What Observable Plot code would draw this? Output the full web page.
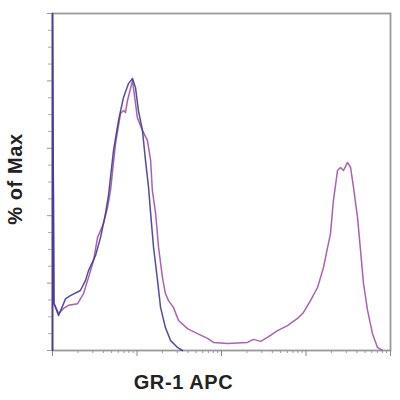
<!DOCTYPE html>
<html>
<head>
<meta charset="utf-8">
<script src="https://cdn.jsdelivr.net/npm/d3@7"></script>
<script src="https://cdn.jsdelivr.net/npm/@observablehq/plot@0.6"></script>
<style>
  html, body { margin: 0; padding: 0; background: #fff; }
  svg text { letter-spacing: 0.6px; }
</style>
</head>
<body>
<div id="chart"></div>
<script>
// Isotype control (blue)
const isoX = [1, 1, 1.04, 1.18, 1.43, 1.63, 2.14, 2.46, 2.67, 3.23, 3.70, 4.24, 4.60, 5.27, 6.04, 6.92, 7.93, 8.85, 9.6, 10.4, 11.6, 12.6, 13.7, 14.5, 15.7, 17.5, 19.0, 21.7, 24.9, 30.1, 34.5];
const isoY = [0, 100, 14, 10.4, 15.4, 16.3, 17.8, 20.8, 23.7, 28.2, 33.5, 40.7, 46, 59.3, 68.2, 75.1, 79.2, 80.7, 78.0, 71.2, 65.3, 56.4, 48.4, 40.7, 30.6, 20.8, 12.8, 6.8, 3.0, 0.9, 0];
// GR-1 APC stained (purple)
const gr1X = [1, 1, 1.04, 1.18, 1.35, 1.55, 1.98, 2.33, 2.67, 3.06, 3.41, 4.01, 4.48, 4.86, 5.57, 6.38, 6.92, 7.31, 7.72, 8.85, 10.1, 11.6, 13.3, 14.5, 15.2, 16.6, 18.0, 20.0, 21.7, 23.6, 27.0, 31.0, 39.6, 52.0, 68.3, 80.4, 118, 203, 239, 290, 350, 460, 604, 793, 934, 1130, 1370, 1610, 1800, 1950, 2110, 2360, 2560, 2780, 3100, 3370, 3650, 4070, 4420, 4790, 5350, 6120, 7020, 8040];
const gr1Y = [0, 100, 14, 11.0, 12.5, 13.4, 13.9, 16.9, 21.7, 26.7, 33.5, 37.7, 42.4, 47.5, 61.4, 70.3, 71.2, 70.6, 74.2, 80.1, 69.1, 65.3, 62.3, 56.4, 47.5, 40.7, 30.6, 21.7, 16.9, 14.8, 12.8, 8.9, 6.5, 5.0, 3.6, 2.4, 2.1, 2.4, 3.3, 2.7, 3.9, 5.9, 7.4, 9.5, 11.3, 14.8, 18.7, 24.6, 30.6, 34.7, 44.5, 53.4, 54.3, 53.4, 55.8, 54.3, 48.4, 39.5, 29.7, 19.9, 11.9, 5.0, 0.9, 0];

const xMajorTicks = [1, 10, 100, 1000, 10000];
const xMinorTicks = [];
for (const d of [1, 10, 100, 1000]) for (const m of [2, 3, 4, 5, 6, 7, 8, 9]) xMinorTicks.push(d * m);
const yMajorTicks = [0, 20, 40, 60, 80, 100];
const yMinorTicks = [5, 10, 15, 25, 30, 35, 45, 50, 55, 65, 70, 75, 85, 90, 95];

const xLabel = "GR-1 APC";
const yLabel = "% of Max";

const iso = isoX.map((x, i) => ({x, y: isoY[i]}));
const gr1 = gr1X.map((x, i) => ({x, y: gr1Y[i]}));

const chart = Plot.plot({
  width: 400,
  height: 400,
  marginLeft: 52,
  marginTop: 13,
  marginRight: 10,
  marginBottom: 50,
  style: {fontFamily: "Liberation Sans, Arial, sans-serif", fontSize: "20px", fontWeight: "bold", background: "#fff"},
  x: {type: "log", domain: [1, 10000], label: null},
  y: {domain: [0, 100], label: null},
  marks: [
    Plot.frame({stroke: "#999", strokeWidth: 1.8}),
    Plot.axisX(xMajorTicks, {tickSize: 6, tickFormat: () => "", stroke: "#888", label: null}),
    Plot.axisX(xMinorTicks, {tickSize: 3, tickFormat: () => "", stroke: "#999", label: null}),
    Plot.axisY(yMajorTicks, {tickSize: 5, tickFormat: () => "", stroke: "#999", label: null}),
    Plot.axisY(yMinorTicks, {tickSize: 4, tickFormat: () => "", stroke: "#aaa", label: null}),
    Plot.line(gr1, {x: "x", y: "y", stroke: "#a862b0", strokeWidth: 1.5}),
    Plot.line(iso, {x: "x", y: "y", stroke: "#3e3a98", strokeWidth: 1.5, strokeOpacity: 0.9}),
    Plot.text([xLabel], {text: d => d, frameAnchor: "bottom", dx: -38, dy: 38, fill: "#222", fontSize: 20, fontWeight: "bold"}),
    Plot.text([yLabel], {text: d => d, frameAnchor: "left", textAnchor: "middle", dx: -37, dy: -3, rotate: -90, fill: "#222", fontSize: 20, fontWeight: "bold"})
  ]
});
document.getElementById("chart").appendChild(chart);
</script>
</body>
</html>
